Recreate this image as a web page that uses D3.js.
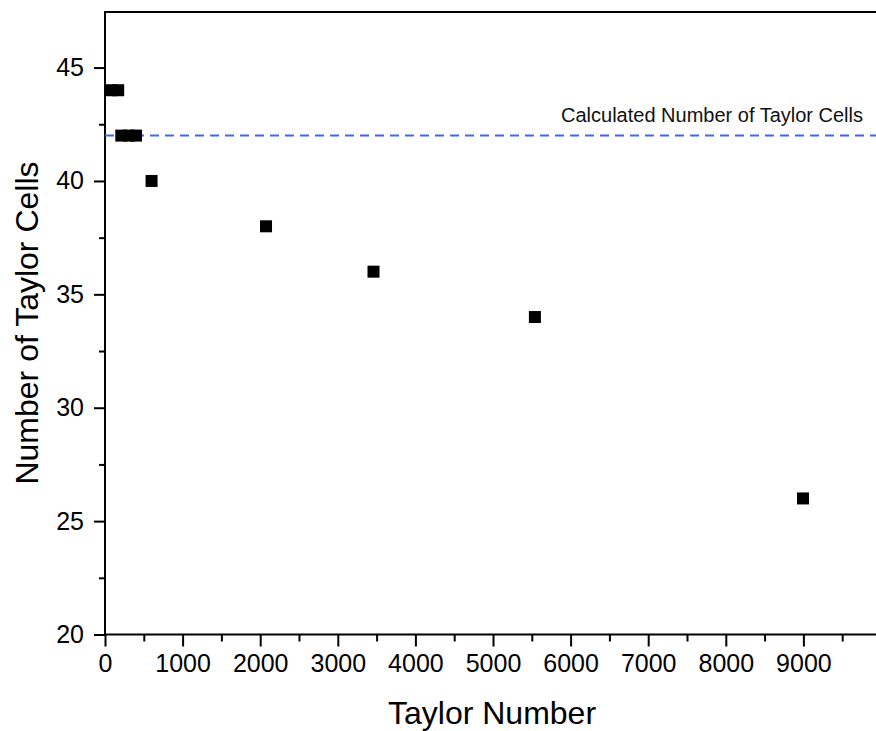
<!DOCTYPE html>
<html>
<head>
<meta charset="utf-8">
<script src="https://cdn.jsdelivr.net/npm/d3@7/dist/d3.min.js"></script>
<style>
  html, body { margin: 0; padding: 0; background: #fff; }
  svg { display: block; font-family: "Liberation Sans", Arial, Helvetica, sans-serif; }
</style>
</head>
<body>
<svg id="chart" width="876" height="731"></svg>
<script>
// Observed Taylor-cell counts versus Taylor number
const taylorNumber = [80, 170, 210, 310, 400, 600, 2075, 3460, 5540, 8995];
const cellCount    = [44, 44, 42, 42, 42, 40, 38, 36, 34, 26];

// Theoretical cell count shown as a reference line
const calculatedCells = 42;
const calculatedLabel = "Calculated Number of Taylor Cells";

const xTicks = [0, 1000, 2000, 3000, 4000, 5000, 6000, 7000, 8000, 9000];
const xMinorTicks = [500, 1500, 2500, 3500, 4500, 5500, 6500, 7500, 8500, 9500];
const yTicks = [20, 25, 30, 35, 40, 45];
const yMinorTicks = [22.5, 27.5, 32.5, 37.5, 42.5];

const xTitle = "Taylor Number";
const yTitle = "Number of Taylor Cells";

const svg = d3.select("#chart");
const plotLeft = 105, plotBottom = 634.5, plotTop = 12, plotRight = 881;

const x = d3.scaleLinear().domain([0, 10000]).range([plotLeft, plotRight]);
const y = d3.scaleLinear().domain([20, 47.45]).range([plotBottom, plotTop]);

// Frame: top border line
svg.append("line")
  .attr("x1", plotLeft).attr("x2", 876)
  .attr("y1", plotTop).attr("y2", plotTop)
  .attr("stroke", "#000").attr("stroke-width", 2);

// X axis (major + minor ticks)
const gx = svg.append("g").attr("transform", `translate(0,${plotBottom})`);
gx.append("g").call(d3.axisBottom(x).tickValues(xMinorTicks).tickSize(7).tickFormat(""));
gx.append("g").call(d3.axisBottom(x).tickValues(xTicks).tickSize(12).tickPadding(8).tickFormat(d3.format("d")));
gx.selectAll(".domain").remove();
gx.append("line").attr("x1", plotLeft - 1).attr("x2", 876).attr("y1", 0).attr("y2", 0);
gx.selectAll("line").attr("stroke", "#000").attr("stroke-width", 2);
gx.selectAll("text").attr("font-size", 25).attr("fill", "#000")
  .attr("font-family", "Liberation Sans, Arial, sans-serif");

// Y axis (major + minor ticks)
const gy = svg.append("g").attr("transform", `translate(${plotLeft},0)`);
gy.append("g").call(d3.axisLeft(y).tickValues(yMinorTicks).tickSize(6).tickFormat(""));
gy.append("g").call(d3.axisLeft(y).tickValues(yTicks).tickSize(11).tickPadding(10).tickFormat(d3.format("d")));
gy.selectAll(".domain").remove();
gy.append("line").attr("x1", 0).attr("x2", 0).attr("y1", plotTop - 1).attr("y2", plotBottom + 1);
gy.selectAll("line").attr("stroke", "#000").attr("stroke-width", 2);
gy.selectAll("text").attr("font-size", 25).attr("fill", "#000")
  .attr("font-family", "Liberation Sans, Arial, sans-serif");

// Calculated reference line
svg.append("line")
  .attr("x1", plotLeft).attr("x2", 876)
  .attr("y1", y(calculatedCells)).attr("y2", y(calculatedCells))
  .attr("stroke", "#3f68ee").attr("stroke-width", 2)
  .attr("stroke-dasharray", "9,6");

svg.append("text")
  .attr("x", 863).attr("y", y(calculatedCells) - 14)
  .attr("text-anchor", "end")
  .attr("font-size", 20).attr("fill", "#111")
  .text(calculatedLabel);

// Data markers: filled squares
const size = 12;
svg.append("g").selectAll("rect")
  .data(taylorNumber.map((t, i) => ({ t, n: cellCount[i] })))
  .join("rect")
  .attr("x", d => x(d.t) - size / 2)
  .attr("y", d => y(d.n) - size / 2)
  .attr("width", size).attr("height", size)
  .attr("fill", "#000");

// Axis titles
svg.append("text")
  .attr("x", 492).attr("y", 724)
  .attr("text-anchor", "middle")
  .attr("font-size", 32).attr("fill", "#000")
  .text(xTitle);

svg.append("text")
  .attr("transform", `translate(38,${323}) rotate(-90)`)
  .attr("text-anchor", "middle")
  .attr("font-size", 32).attr("fill", "#000")
  .text(yTitle);
</script>
</body>
</html>
